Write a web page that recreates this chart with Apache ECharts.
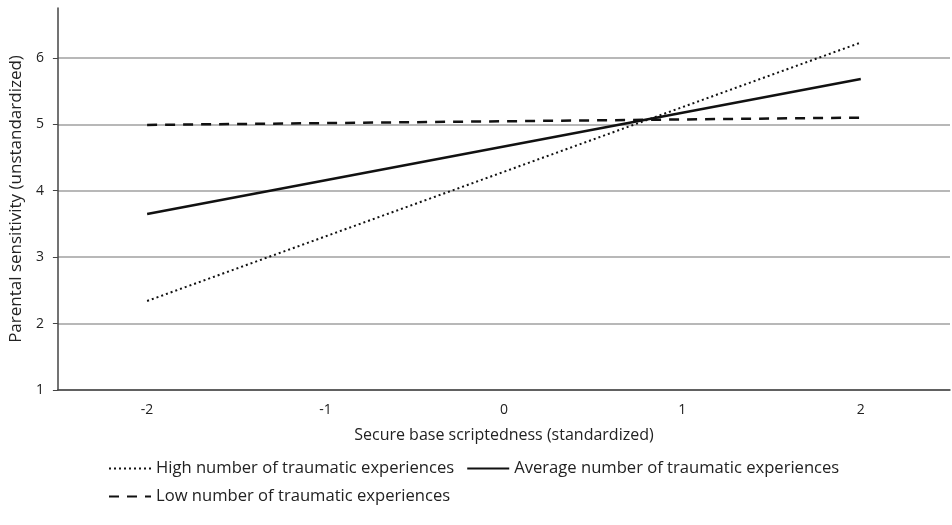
<!DOCTYPE html>
<html>
<head>
<meta charset="utf-8">
<script src="https://cdn.jsdelivr.net/npm/echarts@6/dist/echarts.min.js"></script>
<style>
html,body{margin:0;padding:0;background:#fff;}
#chart{width:952px;height:525px;}
</style>
</head>
<body>
<div id="chart"></div>
<script>
// scriptedness levels on the x axis
var xCats = ['-2', '-1', '0', '1', '2'];
var yTicks = [1, 2, 3, 4, 5, 6];

// simple slopes, read at the two ends (-2 and 2)
var highTrauma = [['-2', 2.34], ['2', 6.23]];
var avgTrauma = [['-2', 3.65], ['2', 5.68]];
var lowTrauma = [['-2', 4.99], ['2', 5.10]];

var seriesNames = [
    'High number of traumatic experiences',
    'Average number of traumatic experiences',
    'Low number of traumatic experiences'
];

var font = 'Open Sans';
var chart = echarts.init(document.getElementById('chart'));

var option = {
    animation: false,
    textStyle: {fontFamily: font},
    grid: {left: 57, right: 2, top: 8, bottom: 135},
    xAxis: {
        type: 'category',
        data: xCats,
        boundaryGap: true,
        name: 'Secure base scriptedness (standardized)',
        nameLocation: 'middle',
        nameGap: 37,
        nameTextStyle: {fontSize: 16, color: '#222', fontFamily: font},
        axisLine: {lineStyle: {color: '#444', width: 1.5}},
        axisTick: {show: false},
        axisLabel: {fontSize: 14, color: '#222', margin: 13, fontFamily: font}
    },
    yAxis: {
        type: 'value',
        min: 1,
        max: 6.75,
        interval: 1,
        name: 'Parental sensitivity (unstandardized)',
        nameLocation: 'middle',
        nameGap: 32,
        nameTextStyle: {fontSize: 17, color: '#222', fontFamily: font},
        axisLine: {show: true, lineStyle: {color: '#444', width: 1.5}},
        axisTick: {show: true, length: 5, lineStyle: {color: '#444'}, customValues: yTicks},
        axisLabel: {fontSize: 14, color: '#222', margin: 14, customValues: yTicks, fontFamily: font},
        splitLine: {show: true, lineStyle: {color: '#b8b8b8', width: 1.8}}
    },
    legend: [{
        data: [seriesNames[0], seriesNames[1]],
        left: 103,
        top: 455,
        itemWidth: 42,
        itemHeight: 10,
        itemGap: 12,
        itemStyle: {opacity: 0},
        textStyle: {fontSize: 16.6, color: '#222', fontFamily: font}
    }, {
        data: [seriesNames[2]],
        left: 103,
        top: 483,
        itemWidth: 42,
        itemHeight: 10,
        itemStyle: {opacity: 0},
        textStyle: {fontSize: 16.6, color: '#222', fontFamily: font}
    }],
    series: [{
        name: seriesNames[0],
        type: 'line',
        data: highTrauma,
        showSymbol: false,
        symbol: 'none',
        color: '#111',
        lineStyle: {color: '#111', width: 2, type: [2, 3]}
    }, {
        name: seriesNames[1],
        type: 'line',
        data: avgTrauma,
        showSymbol: false,
        symbol: 'none',
        color: '#111',
        lineStyle: {color: '#111', width: 2.5, type: 'solid'}
    }, {
        name: seriesNames[2],
        type: 'line',
        data: lowTrauma,
        showSymbol: false,
        symbol: 'none',
        color: '#111',
        lineStyle: {color: '#111', width: 2.5, type: [10, 8]}
    }]
};
chart.setOption(option);
</script>
</body>
</html>
